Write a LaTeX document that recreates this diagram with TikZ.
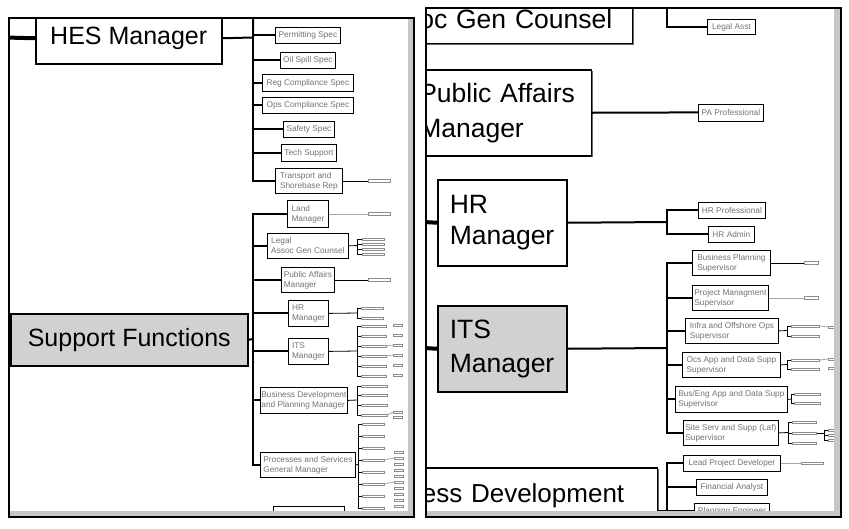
\documentclass[tikz,border=0pt]{standalone}
\usepackage{fontspec}
\setmainfont{Liberation Sans}
\usetikzlibrary{shadows}
\tikzset{
  bigbox/.style={draw,line width=1.5pt,fill=white,align=left,inner xsep=12pt,inner ysep=0pt,
    font=\fontsize{25}{31}\selectfont,
    drop shadow={shadow xshift=1.5pt,shadow yshift=-1.5pt,fill=black!60,opacity=1}},
  smallbox/.style={draw,line width=0.8pt,fill=white,align=left,inner sep=1pt,text=black!55,
    font=\fontsize{8.3}{10}\selectfont,
    drop shadow={shadow xshift=1pt,shadow yshift=-1pt,fill=black!35,opacity=1}},
  leaf/.style={draw=black!45,fill=white,line width=0.5pt,minimum width=22pt,minimum height=2.5pt,inner sep=0pt},
  tip/.style={leaf,minimum width=9pt},
  conn/.style={line width=2pt},
  thinconn/.style={line width=0.8pt},
  faint/.style={line width=0.8pt,black!35},
  wh/.style 2 args={minimum width=#1pt,minimum height=#2pt},
}
\begin{document}
\begin{tikzpicture}[x=1pt,y=-1pt]
\useasboundingbox (0,0) rectangle (849,528);
% left panel
\begin{scope}
\clip (9,18) rectangle (414,517);
\node[bigbox,wh={186}{51},anchor=north west] (hes) at (35,12) {HES Manager};
\node[bigbox,fill=black!18,wh={237}{52},anchor=north west] (sf) at (10,313) {Support Functions};
\node[smallbox,wh={65}{16},anchor=north west] (permit) at (275,27) {Permitting Spec};
\node[smallbox,wh={55}{16},anchor=north west] (oilspill) at (280,52) {Oil Spill Spec};
\node[smallbox,wh={91}{17},anchor=north west] (regcomp) at (262,74) {Reg Compliance Spec};
\node[smallbox,wh={91}{16},anchor=north west] (opscomp) at (262,97) {Ops Compliance Spec};
\node[smallbox,wh={51}{16},anchor=north west] (safety) at (283,121) {Safety Spec};
\node[smallbox,wh={55}{17},anchor=north west] (techsup) at (281,144) {Tech Support};
\node[smallbox,wh={67}{25},anchor=north west] (transport) at (275,168) {Transport and\\Shorebase Rep};
\node[smallbox,wh={41}{27},anchor=north west] (land) at (287,200) {Land\\Manager};
\node[smallbox,wh={81}{25},anchor=north west] (legal) at (267,233) {Legal\\Assoc Gen Counsel};
\node[smallbox,wh={53}{25},anchor=north west] (pubaff) at (281,267) {Public Affairs\\Manager};
\node[smallbox,wh={40}{26},anchor=north west] (hrmgr) at (288,300) {HR\\Manager};
\node[smallbox,wh={40}{26},anchor=north west] (itsmgr) at (288,338) {ITS\\Manager};
\node[smallbox,wh={87}{26},anchor=north west] (busdev) at (260,387) {Business Development\\and Planning Manager};
\node[smallbox,wh={95}{25},anchor=north west] (procserv) at (260,452) {Processes and Services\\General Manager};
\node[smallbox,wh={71}{20},anchor=north west] (lastbox) at (273,506) {};
% HES branch
\coordinate (hesin) at (5,37.5);
\coordinate (hestop) at (253,10);
\coordinate (hesbus) at (253,37.5);
\draw[line width=4pt] (hesin) -- (hes.west);
\draw[conn] (hes.east) -- (hesbus) -- (hestop);
\foreach \n in {permit,oilspill,regcomp,opscomp,safety,techsup,transport}
  \draw[conn] (\n.west) -| (hesbus);
\node[leaf,anchor=west] (tr1) at ([xshift=25pt]transport.east) {};
\draw[thinconn] (transport.east) -- (tr1.west);
% support functions branch
\coordinate (sfbus) at (253,339);
\draw[conn] (sf.east) -- (sfbus);
\foreach \n in {land,legal,pubaff,hrmgr,itsmgr,busdev,procserv}
  \draw[conn] (\n.west) -| (sfbus);
\node[leaf,anchor=west] (ld1) at ([xshift=39pt]land.east) {};
\draw[faint] (land.east) -- (ld1.west);
\node[leaf,anchor=west] (pa1) at ([xshift=33pt]pubaff.east) {};
\draw[thinconn] (pubaff.east) -- (pa1.west);
\coordinate (lgb) at (357,245.5);
\draw[thinconn] (legal.east) -- (lgb);
\foreach \y [count=\i] in {239,244,249,254} {
  \node[leaf,anchor=west] (lg\i) at (362,\y) {};
  \draw[thinconn] (lg\i.west) -| (lgb);
}
\coordinate (hrb) at (357,313);
\draw[thinconn] (hrmgr.east) -- (hrb);
\foreach \y [count=\i] in {308,318} {
  \node[leaf,anchor=west] (hr\i) at (361,\y) {};
  \draw[thinconn] (hr\i.west) -| (hrb);
}
\coordinate (itb) at (357,351);
\draw[thinconn] (itsmgr.east) -- (itb);
\foreach \y [count=\i] in {326,336,346,356,366,376} {
  \node[leaf,anchor=west,minimum width=25pt] (it\i) at (361,\y) {};
  \draw[thinconn] (it\i.west) -| (itb);
  \node[tip,anchor=west] (itx\i) at (393,\y-1) {};
}
\foreach \i in {3,4}
  \draw[faint] (it\i.east) -- (itx\i.west);
\coordinate (bdb) at (357,400);
\draw[thinconn] (busdev.east) -- (bdb);
\foreach \y [count=\i] in {386,395,405,415} {
  \node[leaf,anchor=west,minimum width=26pt] (bd\i) at (361,\y) {};
  \draw[thinconn] (bd\i.west) -| (bdb);
}
\node[tip,anchor=west] (bdx1) at (393,412) {};
\node[tip,anchor=west] (bdx2) at (393,417) {};
\draw[faint] (bd4.east) -- (bdx1.west);
\coordinate (psb) at (358,464.5);
\draw[thinconn] (procserv.east) -- (psb);
\foreach \y [count=\i] in {424,436,448,460,472,484,496,508} {
  \node[leaf,anchor=west] (ps\i) at (362,\y) {};
  \draw[thinconn] (ps\i.west) -| (psb);
}
\foreach \y [count=\i] in {452,458,464,470,476,482,488,494,500,506,512} {
  \node[tip,anchor=west] (psx\i) at (394,\y) {};
}
\draw[faint] (ps4.east) -- (psx2.west);
\draw[faint] (ps6.east) -- (psx6.west);
\end{scope}
\fill[black!22] (408,18) rectangle (413,516);
\fill[black!22] (9,511) rectangle (413,516);
\draw[line width=2pt] (9,18) rectangle (414,517);
% right panel
\begin{scope}
\clip (426,8) rectangle (841,517);
\node[bigbox,font=\fontsize{26.5}{33}\selectfont,align=right,text width=270pt,inner xsep=20pt,minimum height=48pt,anchor=south east] (legalR) at (633,44) {Assoc Gen Counsel};
\node[bigbox,font=\fontsize{26.5}{35}\selectfont,text width=160pt,minimum height=86pt,anchor=north east] (paR) at (592,69) {Public Affairs\\Manager};
\node[bigbox,font=\fontsize{26.5}{31}\selectfont,text width=105pt,inner xsep=12pt,minimum height=86pt,anchor=north west] (hrR) at (437,179) {HR\\Manager};
\node[bigbox,fill=black!18,font=\fontsize{26.5}{34}\selectfont,text width=105pt,inner xsep=12pt,minimum height=86pt,anchor=north west] (itsR) at (437,305) {ITS\\Manager};
\node[bigbox,font=\fontsize{26}{33}\selectfont,align=right,text width=290pt,inner xsep=33pt,minimum height=56pt,anchor=north east] (bdR) at (658,467) {Business Development};
\node[smallbox,wh={48}{15},anchor=north west] (legalasst) at (707,19) {Legal Asst};
\node[smallbox,wh={65}{17},anchor=north west] (paprof) at (698,103.5) {PA Professional};
\node[smallbox,wh={67}{16},anchor=north west] (hrprof) at (698,202) {HR Professional};
\node[smallbox,wh={46}{16},anchor=north west] (hradmin) at (708,226) {HR Admin};
\node[smallbox,wh={78}{25},anchor=north west] (bizplan) at (692,250) {Business Planning\\Supervisor};
\node[smallbox,wh={76}{25},anchor=north west] (projmgmt) at (692,285) {Project Managment\\Supervisor};
\node[smallbox,wh={93}{25},anchor=north west] (infra) at (685,318) {Infra and Offshore Ops\\Supervisor};
\node[smallbox,wh={98}{25},anchor=north west] (ocsapp) at (682,352) {Ocs App and Data Supp\\Supervisor};
\node[smallbox,wh={112}{26},anchor=north west] (buseng) at (675,386) {Bus/Eng App and Data Supp\\Supervisor};
\node[smallbox,wh={95}{25},anchor=north west] (siteserv) at (683,420) {Site Serv and Supp (Laf)\\Supervisor};
\node[smallbox,wh={97}{16},anchor=north west] (leadproj) at (683,455) {Lead Project Developer};
\node[smallbox,wh={71}{16},anchor=north west] (finanal) at (696,479) {Financial Analyst};
\node[smallbox,wh={75}{16},anchor=north west] (planeng) at (694,503) {Planning Engineer};
% legal and public affairs
\coordinate (lgtop) at (667,4);
\draw[conn] (legalasst.west) -| (lgtop);
\draw[conn] (paR.east) -- (paprof.west);
% hr
\coordinate (hrin) at (424,222);
\coordinate (hrbus) at (667,222);
\draw[line width=4pt] (hrin) -- (hrR.west);
\draw[conn] (hrR.east) -- (hrbus);
\foreach \n in {hrprof,hradmin}
  \draw[conn] (\n.west) -| (hrbus);
% its
\coordinate (itsin) at (424,348);
\coordinate (itsbus) at (667,348);
\draw[line width=4pt] (itsin) -- (itsR.west);
\draw[conn] (itsR.east) -- (itsbus);
\foreach \n in {bizplan,projmgmt,infra,ocsapp,buseng,siteserv}
  \draw[conn] (\n.west) -| (itsbus);
\node[leaf,anchor=west,minimum width=14pt] (bp1) at ([xshift=33pt]bizplan.east) {};
\draw[thinconn] (bizplan.east) -- (bp1.west);
\node[leaf,anchor=west,minimum width=14pt] (pm1) at ([xshift=35pt]projmgmt.east) {};
\draw[faint] (projmgmt.east) -- (pm1.west);
\coordinate (ifb) at (787,330.5);
\draw[thinconn] (infra.east) -- (ifb);
\foreach \y [count=\i] in {326,336} {
  \node[leaf,anchor=west,minimum width=28pt] (if\i) at (791,\y) {};
  \draw[thinconn] (if\i.west) -| (ifb);
}
\node[tip,anchor=west] (ifx1) at (828,327) {};
\draw[faint] (if1.east) -- (ifx1.west);
\coordinate (ocb) at (787,364.5);
\draw[thinconn] (ocsapp.east) -- (ocb);
\foreach \y [count=\i] in {360,369} {
  \node[leaf,anchor=west,minimum width=28pt] (oc\i) at (791,\y) {};
  \draw[thinconn] (oc\i.west) -| (ocb);
}
\node[tip,anchor=west] (ocx1) at (828,359) {};
\node[tip,anchor=west] (ocx2) at (828,368) {};
\draw[faint] (oc1.east) -- (ocx1.west);
\coordinate (ebb) at (791,399);
\draw[thinconn] (buseng.east) -- (ebb);
\foreach \y [count=\i] in {394,403} {
  \node[leaf,anchor=west,minimum width=26pt] (eb\i) at (794,\y) {};
  \draw[thinconn] (eb\i.west) -| (ebb);
}
\coordinate (ssb) at (788,432.5);
\draw[thinconn] (siteserv.east) -- (ssb);
\foreach \y [count=\i] in {422,433,443} {
  \node[leaf,anchor=west,minimum width=24pt] (ss\i) at (792,\y) {};
  \draw[thinconn] (ss\i.west) -| (ssb);
}
\coordinate (ssxb) at (824,435);
\draw[thinconn] (ss2.east) -| (ssxb);
\foreach \y [count=\i] in {430,435,440} {
  \node[tip,anchor=west] (ssx\i) at (828,\y) {};
  \draw[thinconn] (ssx\i.west) -| (ssxb);
}
% business development
\coordinate (bdbus) at (667,511);
\coordinate (bdend) at (667,522);
\draw[conn] (bdbus -| bdR.east) -- (bdbus) -- (bdend);
\foreach \n in {leadproj,finanal,planeng}
  \draw[conn] (\n.west) -| (bdbus);
\node[leaf,anchor=west] (lp1) at ([xshift=20pt]leadproj.east) {};
\draw[faint] (leadproj.east) -- (lp1.west);
\end{scope}
\fill[black!22] (834,8) rectangle (840,516);
\fill[black!22] (426,511) rectangle (840,516);
\draw[line width=2pt] (426,8) rectangle (841,517);
\end{tikzpicture}
\end{document}
